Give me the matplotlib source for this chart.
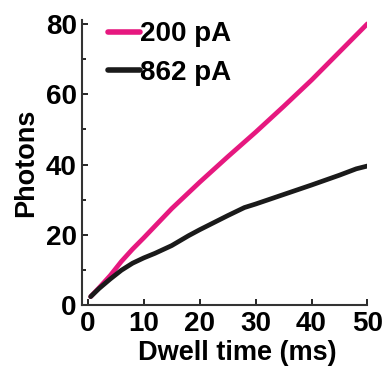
import numpy as np
import matplotlib.pyplot as plt

plt.rcParams['font.family'] = ['Liberation Sans', 'DejaVu Sans']
plt.rcParams['font.weight'] = 'bold'

# dwell time (ms)
t_200 = [0.5, 2, 4, 6, 8, 10, 15, 20, 25, 30, 35, 40, 45, 50]
ph_200 = [2.5, 5, 8.5, 12.5, 16, 19.2, 27.5, 35, 42.2, 49.2, 56.5, 64, 72, 80]
t_862 = [0.5, 2, 4, 6, 8, 10, 12, 15, 18, 20, 25, 28, 30, 35, 40, 45, 48, 50]
ph_862 = [2.5, 4.8, 7.5, 10, 12, 13.5, 14.8, 17, 19.8, 21.5, 25.5, 27.8, 28.8, 31.5, 34.2, 37, 38.8, 39.6]

fig = plt.figure(figsize=(3.88, 3.68), dpi=100)
ax = fig.add_axes([0.212, 0.17, 0.735, 0.775])

ax.plot(t_200, ph_200, color='#e6187f', lw=3.4, label='200 pA', solid_capstyle='round')
ax.plot(t_862, ph_862, color='#1a1a1a', lw=3.4, label='862 pA', solid_capstyle='round')

ax.set_xlim(-1, 50)
ax.set_ylim(0, 81)
ax.set_xticks([0, 10, 20, 30, 40, 50])
ax.set_yticks([0, 20, 40, 60, 80])
ax.set_yticks([10, 30, 50, 70], minor=True)
ax.tick_params(direction='in', labelsize=20, length=4, width=1.2, pad=4)
ax.tick_params(which='minor', direction='in', length=3, width=1.2)
for s in ['top', 'right']:
    ax.spines[s].set_visible(False)
for s in ['left', 'bottom']:
    ax.spines[s].set_linewidth(1.5)
    ax.spines[s].set_color('#333333')

ax.set_xlabel('Dwell time (ms)', fontsize=19.5, fontweight='bold', labelpad=1)
ax.xaxis.set_label_coords(0.545, -0.122)
ax.set_ylabel('Photons', fontsize=19.5, fontweight='bold', labelpad=5)

leg = ax.legend(loc='upper left', frameon=False, fontsize=20, handlelength=1.15,
                handletextpad=0.02, borderaxespad=0.0, bbox_to_anchor=(0.05, 1.035),
                labelspacing=0.45)
for line in leg.get_lines():
    line.set_linewidth(4)

fig.savefig('out.png', dpi=100)
